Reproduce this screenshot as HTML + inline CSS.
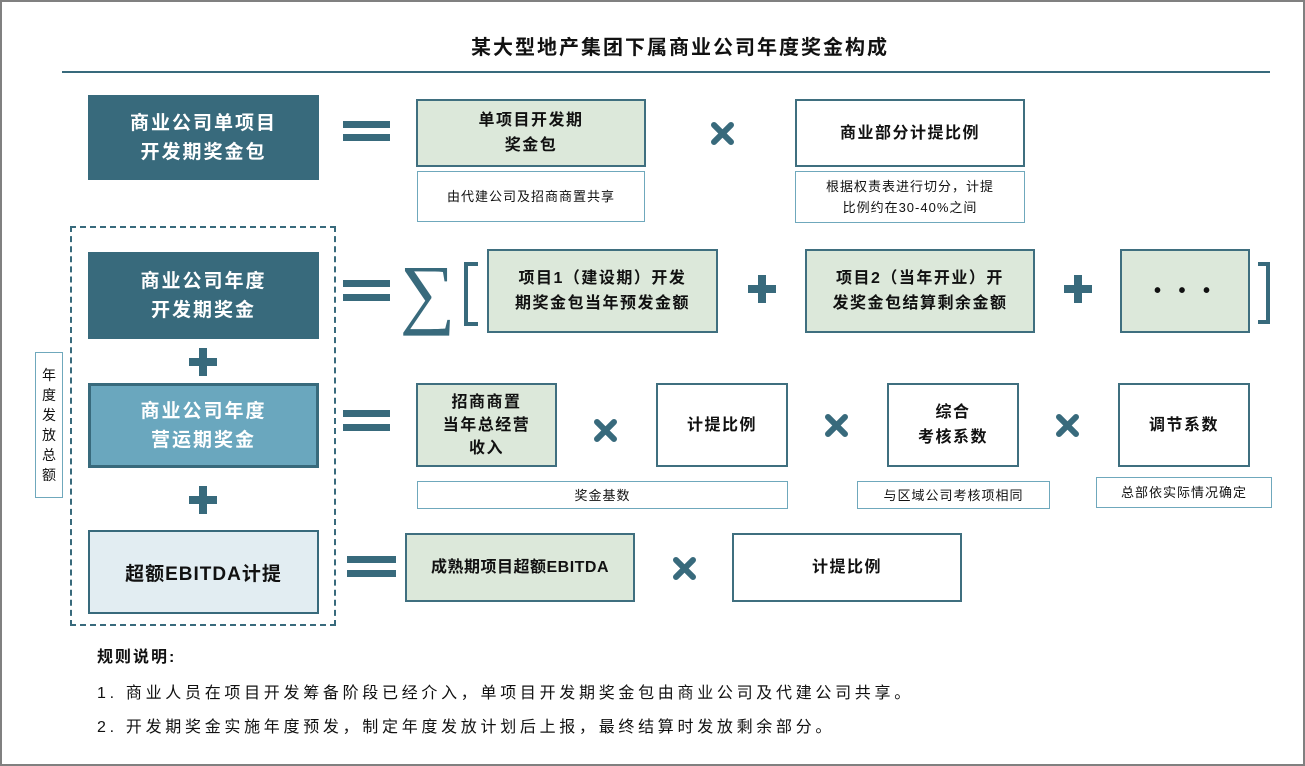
<!DOCTYPE html>
<html><head><meta charset="utf-8"><style>
*{margin:0;padding:0;box-sizing:border-box}
body{width:1305px;height:766px;background:#fff;position:relative;overflow:hidden;font-family:"Liberation Sans","Noto Sans CJK SC",sans-serif;color:#111}
.a{position:absolute}
.b{position:absolute;display:flex;align-items:center;justify-content:center;text-align:center}
.dk{background:#386a7c;color:#fff;font-size:19px;font-weight:bold;letter-spacing:2px;line-height:29px}
.gr{background:#dce8da;border:2px solid #3f6f7f;font-size:16px;font-weight:bold;letter-spacing:1.5px;line-height:25px}
.wh{background:#fff;border:2px solid #3f6f7f;font-size:16px;font-weight:bold;letter-spacing:1.5px;line-height:25px}
.nt{background:#fff;border:1px solid #6fa8bc;font-size:13px;letter-spacing:1px;line-height:21px}
.eq{position:absolute;width:47px;height:7px;background:#386a7c}
</style></head><body>
<div class="a" style="left:0;top:0;width:1305px;height:766px;border:2px solid #808080"></div>
<div class="b" style="left:380px;top:30px;width:600px;height:30px;font-size:20px;font-weight:bold;letter-spacing:2px">某大型地产集团下属商业公司年度奖金构成</div>
<div class="a" style="left:62px;top:71px;width:1208px;height:2px;background:#386a7c"></div>

<!-- row 1 -->
<div class="b dk" style="left:88px;top:95px;width:231px;height:85px">商业公司单项目<br>开发期奖金包</div>
<div class="eq" style="left:343px;top:121px"></div><div class="eq" style="left:343px;top:134px"></div>
<div class="b gr" style="left:416px;top:99px;width:230px;height:68px">单项目开发期<br>奖金包</div>
<div class="b nt" style="left:417px;top:171px;width:228px;height:51px">由代建公司及招商商置共享</div>
<svg class="a" style="left:710px;top:121px" width="25" height="25" viewBox="0 0 25 25"><path d="M4 4L21 21M21 4L4 21" stroke="#386a7c" stroke-width="6" stroke-linecap="round"/></svg>
<div class="b wh" style="left:795px;top:99px;width:230px;height:68px">商业部分计提比例</div>
<div class="b nt" style="left:795px;top:171px;width:230px;height:52px">根据权责表进行切分，计提<br>比例约在30-40%之间</div>

<!-- dashed group -->
<div class="a" style="left:70px;top:226px;width:266px;height:400px;border:2px dashed #386a7c"></div>
<div class="b nt" style="left:35px;top:352px;width:28px;height:146px;font-size:14px;line-height:20px;letter-spacing:0">年<br>度<br>发<br>放<br>总<br>额</div>

<!-- row 2 -->
<div class="b dk" style="left:88px;top:252px;width:231px;height:87px">商业公司年度<br>开发期奖金</div>
<div class="eq" style="left:343px;top:280px"></div><div class="eq" style="left:343px;top:294px"></div>
<div class="b" style="left:400px;top:255px;width:55px;height:75px;font-family:'Liberation Serif',serif;font-size:78px;color:#386a7c;line-height:75px">∑</div>
<div class="a" style="left:464px;top:262px;width:14px;height:64px;border:4px solid #386a7c;border-right:none"></div>
<div class="b gr" style="left:487px;top:249px;width:231px;height:84px">项目1（建设期）开发<br>期奖金包当年预发金额</div>
<svg class="a" style="left:748px;top:275px" width="28" height="28"><rect x="10" y="0" width="8" height="28" fill="#386a7c"/><rect x="0" y="10" width="28" height="8" fill="#386a7c"/></svg>
<div class="b gr" style="left:805px;top:249px;width:230px;height:84px">项目2（当年开业）开<br>发奖金包结算剩余金额</div>
<svg class="a" style="left:1064px;top:275px" width="28" height="28"><rect x="10" y="0" width="8" height="28" fill="#386a7c"/><rect x="0" y="10" width="28" height="8" fill="#386a7c"/></svg>
<div class="b gr" style="left:1120px;top:249px;width:130px;height:84px;font-size:20px;letter-spacing:6px">• • •</div>
<div class="a" style="left:1258px;top:262px;width:12px;height:62px;border:4px solid #386a7c;border-left:none"></div>

<svg class="a" style="left:189px;top:348px" width="28" height="28"><rect x="10" y="0" width="8" height="28" fill="#386a7c"/><rect x="0" y="10" width="28" height="8" fill="#386a7c"/></svg>

<!-- row 3 -->
<div class="b dk" style="left:88px;top:383px;width:231px;height:85px;background:#6aa7be;border:3px solid #386a7c">商业公司年度<br>营运期奖金</div>
<div class="eq" style="left:343px;top:410px"></div><div class="eq" style="left:343px;top:424px"></div>
<div class="b gr" style="left:416px;top:383px;width:141px;height:84px;line-height:23px">招商商置<br>当年总经营<br>收入</div>
<svg class="a" style="left:593px;top:418px" width="25" height="25"><path d="M4 4L21 21M21 4L4 21" stroke="#386a7c" stroke-width="6" stroke-linecap="round"/></svg>
<div class="b wh" style="left:656px;top:383px;width:132px;height:84px">计提比例</div>
<svg class="a" style="left:824px;top:413px" width="25" height="25"><path d="M4 4L21 21M21 4L4 21" stroke="#386a7c" stroke-width="6" stroke-linecap="round"/></svg>
<div class="b wh" style="left:887px;top:383px;width:132px;height:84px">综合<br>考核系数</div>
<svg class="a" style="left:1055px;top:413px" width="25" height="25"><path d="M4 4L21 21M21 4L4 21" stroke="#386a7c" stroke-width="6" stroke-linecap="round"/></svg>
<div class="b wh" style="left:1118px;top:383px;width:132px;height:84px">调节系数</div>
<div class="b nt" style="left:417px;top:481px;width:371px;height:28px">奖金基数</div>
<div class="b nt" style="left:857px;top:481px;width:193px;height:28px">与区域公司考核项相同</div>
<div class="b nt" style="left:1096px;top:477px;width:176px;height:31px">总部依实际情况确定</div>

<svg class="a" style="left:189px;top:486px" width="28" height="28"><rect x="10" y="0" width="8" height="28" fill="#386a7c"/><rect x="0" y="10" width="28" height="8" fill="#386a7c"/></svg>

<!-- row 4 -->
<div class="b" style="left:88px;top:530px;width:231px;height:84px;background:#e2edf2;border:2px solid #386a7c;font-size:19px;font-weight:bold;letter-spacing:1px">超额EBITDA计提</div>
<div class="eq" style="left:347px;top:556px;width:49px"></div><div class="eq" style="left:347px;top:570px;width:49px"></div>
<div class="b gr" style="left:405px;top:533px;width:230px;height:69px;letter-spacing:0.5px">成熟期项目超额EBITDA</div>
<svg class="a" style="left:672px;top:556px" width="25" height="25"><path d="M4 4L21 21M21 4L4 21" stroke="#386a7c" stroke-width="6" stroke-linecap="round"/></svg>
<div class="b wh" style="left:732px;top:533px;width:230px;height:69px">计提比例</div>

<!-- rules -->
<div class="a" style="left:97px;top:643px;font-size:16px;font-weight:bold;letter-spacing:2px">规则说明:</div>
<div class="a" style="left:97px;top:679px;font-size:16px;letter-spacing:3.7px;white-space:nowrap">1. 商业人员在项目开发筹备阶段已经介入，单项目开发期奖金包由商业公司及代建公司共享。</div>
<div class="a" style="left:97px;top:713px;font-size:16px;letter-spacing:3.7px;white-space:nowrap">2. 开发期奖金实施年度预发，制定年度发放计划后上报，最终结算时发放剩余部分。</div>
</body></html>
